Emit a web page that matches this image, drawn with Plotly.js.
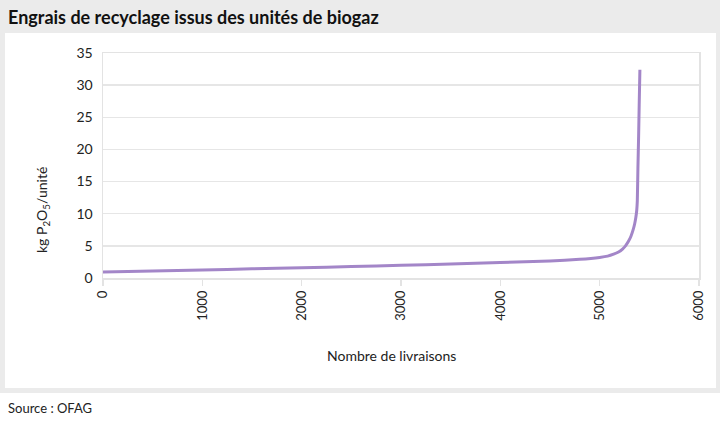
<!DOCTYPE html>
<html>
<head>
<meta charset="utf-8">
<script src="https://cdn.plot.ly/plotly-3.0.1.min.js"></script>
<style>html,body{margin:0;padding:0;background:#fff;}#chart{width:720px;height:422px;}</style>
</head>
<body>
<div id="chart"></div>
<script>
const livraisons = [0, 500, 1000, 1500, 2000, 2500, 3000, 3500, 4000, 4500, 4800, 5000, 5080, 5140, 5190, 5230, 5260, 5290, 5315, 5335, 5352, 5364, 5373, 5379, 5385, 5392, 5398, 5405];
const kgP2O5 = [0.95, 1.1, 1.25, 1.42, 1.6, 1.78, 1.97, 2.17, 2.4, 2.65, 2.9, 3.2, 3.4, 3.7, 4.05, 4.5, 5.0, 5.7, 6.5, 7.4, 8.4, 9.4, 10.5, 12, 17, 22, 27, 32.4];
const xTicks = [0, 1000, 2000, 3000, 4000, 5000, 6000];
const yTicks = [0, 5, 10, 15, 20, 25, 30, 35];

const W = 720, H = 422, L = 103, R = 21, T = 53, B = 144;
const pw = W - L - R, ph = H - T - B;
const px = v => (v - L) / pw;
const py = v => (H - B - v) / ph;
const font = "Lato, 'Open Sans', sans-serif";

const data = [{
  x: livraisons, y: kgP2O5, type: 'scatter', mode: 'lines',
  line: {color: '#a386c8', width: 3, shape: 'spline', smoothing: 0.4},
  hoverinfo: 'skip'
}];

const layout = {
  width: W, height: H,
  margin: {l: L, r: R, t: T, b: B},
  paper_bgcolor: '#ffffff', plot_bgcolor: 'rgba(0,0,0,0)',
  showlegend: false,
  font: {family: font, size: 13, color: '#222'},
  xaxis: {
    range: [0, 6000], tickvals: xTicks, ticktext: xTicks.map(String),
    tickangle: -90, showgrid: false, zeroline: false,
    showline: true, mirror: true, linecolor: '#e3e3e3', linewidth: 1.5,
    ticks: 'outside', ticklen: 6, tickcolor: '#e3e3e3', tickwidth: 1.5,
    tickfont: {family: font, size: 13, color: '#222'}, fixedrange: true
  },
  yaxis: {
    range: [0, 35], tickvals: yTicks, ticktext: yTicks.map(String),
    showgrid: true, gridcolor: '#e6e6e6', gridwidth: 1.5, zeroline: false,
    showline: true, mirror: true, linecolor: '#e3e3e3', linewidth: 1.5,
    ticks: '', tickfont: {family: font, size: 14, color: '#222'},
    ticklabelstandoff: 6, fixedrange: true
  },
  shapes: [
    {type: 'rect', xref: 'paper', yref: 'paper', layer: 'below',
     x0: px(0), x1: px(720), y0: py(0), y1: py(393), fillcolor: '#ebebeb', line: {width: 0}},
    {type: 'rect', xref: 'paper', yref: 'paper', layer: 'below',
     x0: px(5), x1: px(716), y0: py(33), y1: py(388), fillcolor: '#ffffff', line: {width: 0}}
  ],
  annotations: [
    {text: '<b>Engrais de recyclage issus des unités de biogaz</b>', xref: 'paper', yref: 'paper',
     x: px(6), y: py(17), xanchor: 'left', yanchor: 'middle', showarrow: false,
     font: {family: font, size: 18, color: '#111'}},
    {text: 'Source : OFAG', xref: 'paper', yref: 'paper',
     x: px(6), y: py(408), xanchor: 'left', yanchor: 'middle', showarrow: false,
     font: {family: font, size: 13, color: '#222'}},
    {text: 'Nombre de livraisons', xref: 'paper', yref: 'paper',
     x: px(391), y: py(355), xanchor: 'center', yanchor: 'middle', showarrow: false,
     font: {family: font, size: 14, color: '#222'}},
    {text: 'kg P<sub>2</sub>O<sub>5</sub>/unité', xref: 'paper', yref: 'paper',
     x: px(42), y: py(210), xanchor: 'center', yanchor: 'middle', showarrow: false, textangle: -90,
     font: {family: font, size: 14, color: '#222'}}
  ]
};

Plotly.newPlot('chart', data, layout, {displayModeBar: false, staticPlot: true});
</script>
</body>
</html>
